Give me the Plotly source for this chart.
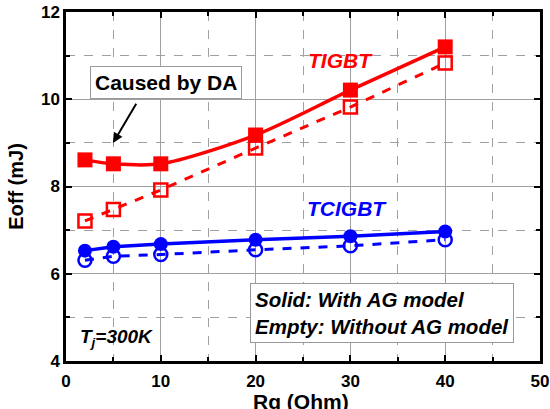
import plotly.graph_objects as go

rg = [2, 5, 10, 20, 30, 40]
tigbt_ag = [8.61, 8.52, 8.52, 9.18, 10.21, 11.2]
tigbt_noag = [7.21, 7.47, 7.92, 8.88, 9.82, 10.83]
tcigbt_ag = [6.53, 6.62, 6.68, 6.78, 6.86, 6.97]
tcigbt_noag = [6.31, 6.4, 6.44, 6.55, 6.64, 6.78]

RED = "#ff0000"
BLUE = "#0000ff"
FONT = "Liberation Sans, Arial, sans-serif"

fig = go.Figure()
fig.add_trace(go.Scatter(x=rg, y=tigbt_noag, mode="lines+markers",
                         line=dict(color=RED, width=3, dash="dash"),
                         marker=dict(symbol="square-open", size=13, color=RED, line=dict(width=2.5, color=RED))))
fig.add_trace(go.Scatter(x=rg, y=tigbt_ag, mode="lines+markers",
                         line=dict(color=RED, width=3.5, shape="spline", smoothing=0.8),
                         marker=dict(symbol="square", size=15, color=RED)))
fig.add_trace(go.Scatter(x=rg, y=tcigbt_noag, mode="lines+markers",
                         line=dict(color=BLUE, width=3, dash="dash"),
                         marker=dict(symbol="circle-open", size=13, color=BLUE, line=dict(width=2.5, color=BLUE))))
fig.add_trace(go.Scatter(x=rg, y=tcigbt_ag, mode="lines+markers",
                         line=dict(color=BLUE, width=3.5),
                         marker=dict(symbol="circle", size=14, color=BLUE)))

axis_common = dict(showline=True, linecolor="black", linewidth=2.5, mirror="ticks",
                   ticks="inside", ticklen=6, tickwidth=2, tickcolor="black",
                   showgrid=True, gridcolor="#a0a0a0", gridwidth=1,
                   zeroline=False, automargin=False,
                   tickfont=dict(family=FONT, size=17, color="black", weight="bold"))

fig.update_xaxes(range=[0, 50], dtick=10, tick0=0, ticklabelstandoff=3,
                 minor=dict(dtick=5, showgrid=True, griddash="dash", gridcolor="#a0a0a0",
                            ticks="inside", ticklen=4, tickcolor="black"),
                 **axis_common)
fig.update_yaxes(range=[4, 12], dtick=2, tick0=4,
                 minor=dict(dtick=1, showgrid=True, griddash="dash", gridcolor="#a0a0a0",
                            ticks="inside", ticklen=4, tickcolor="black"),
                 title=dict(text="Eoff (mJ)", font=dict(family=FONT, size=20, color="black", weight="bold"), standoff=12),
                 **axis_common)

annotations = [
    dict(x=0.495, y=-0.115, xref="paper", yref="paper", yanchor="middle",
         text="<b>Rg (Ohm)</b>", showarrow=False,
         font=dict(family=FONT, size=21, color="black")),
    dict(x=29.0, y=10.88, text="<b><i>TIGBT</i></b>", showarrow=False,
         font=dict(family=FONT, size=21, color=RED)),
    dict(x=29.6, y=7.5, text="<b><i>TCIGBT</i></b>", showarrow=False,
         font=dict(family=FONT, size=21, color=BLUE)),
    dict(x=4.96, y=9.0, ax=7.5, ay=9.93, axref="x", ayref="y",
         text="", showarrow=True, arrowhead=2, arrowsize=1, arrowwidth=2, arrowcolor="black"),
    dict(x=10.55, y=10.39, text="<b>Caused by DA</b>", showarrow=False,
         font=dict(family=FONT, size=21, color="black"),
         bordercolor="#999999", borderwidth=1, bgcolor="white", borderpad=4),
    dict(x=33.3, y=5.11, text="<b><i>Solid: With AG model<br>Empty: Without AG model</i></b>",
         showarrow=False, align="left",
         font=dict(family=FONT, size=20.5, color="black"),
         bordercolor="#999999", borderwidth=1, bgcolor="white", borderpad=4),
    dict(x=1.25, y=4.52, xanchor="left", text="<b><i>T<sub>j</sub>=300K</i></b>", showarrow=False,
         font=dict(family=FONT, size=19, color="black")),
]

fig.update_layout(width=550, height=409, margin=dict(l=66, r=10, t=12, b=48),
                  plot_bgcolor="white", paper_bgcolor="white", showlegend=False,
                  annotations=annotations)

fig.write_html("out.html")
